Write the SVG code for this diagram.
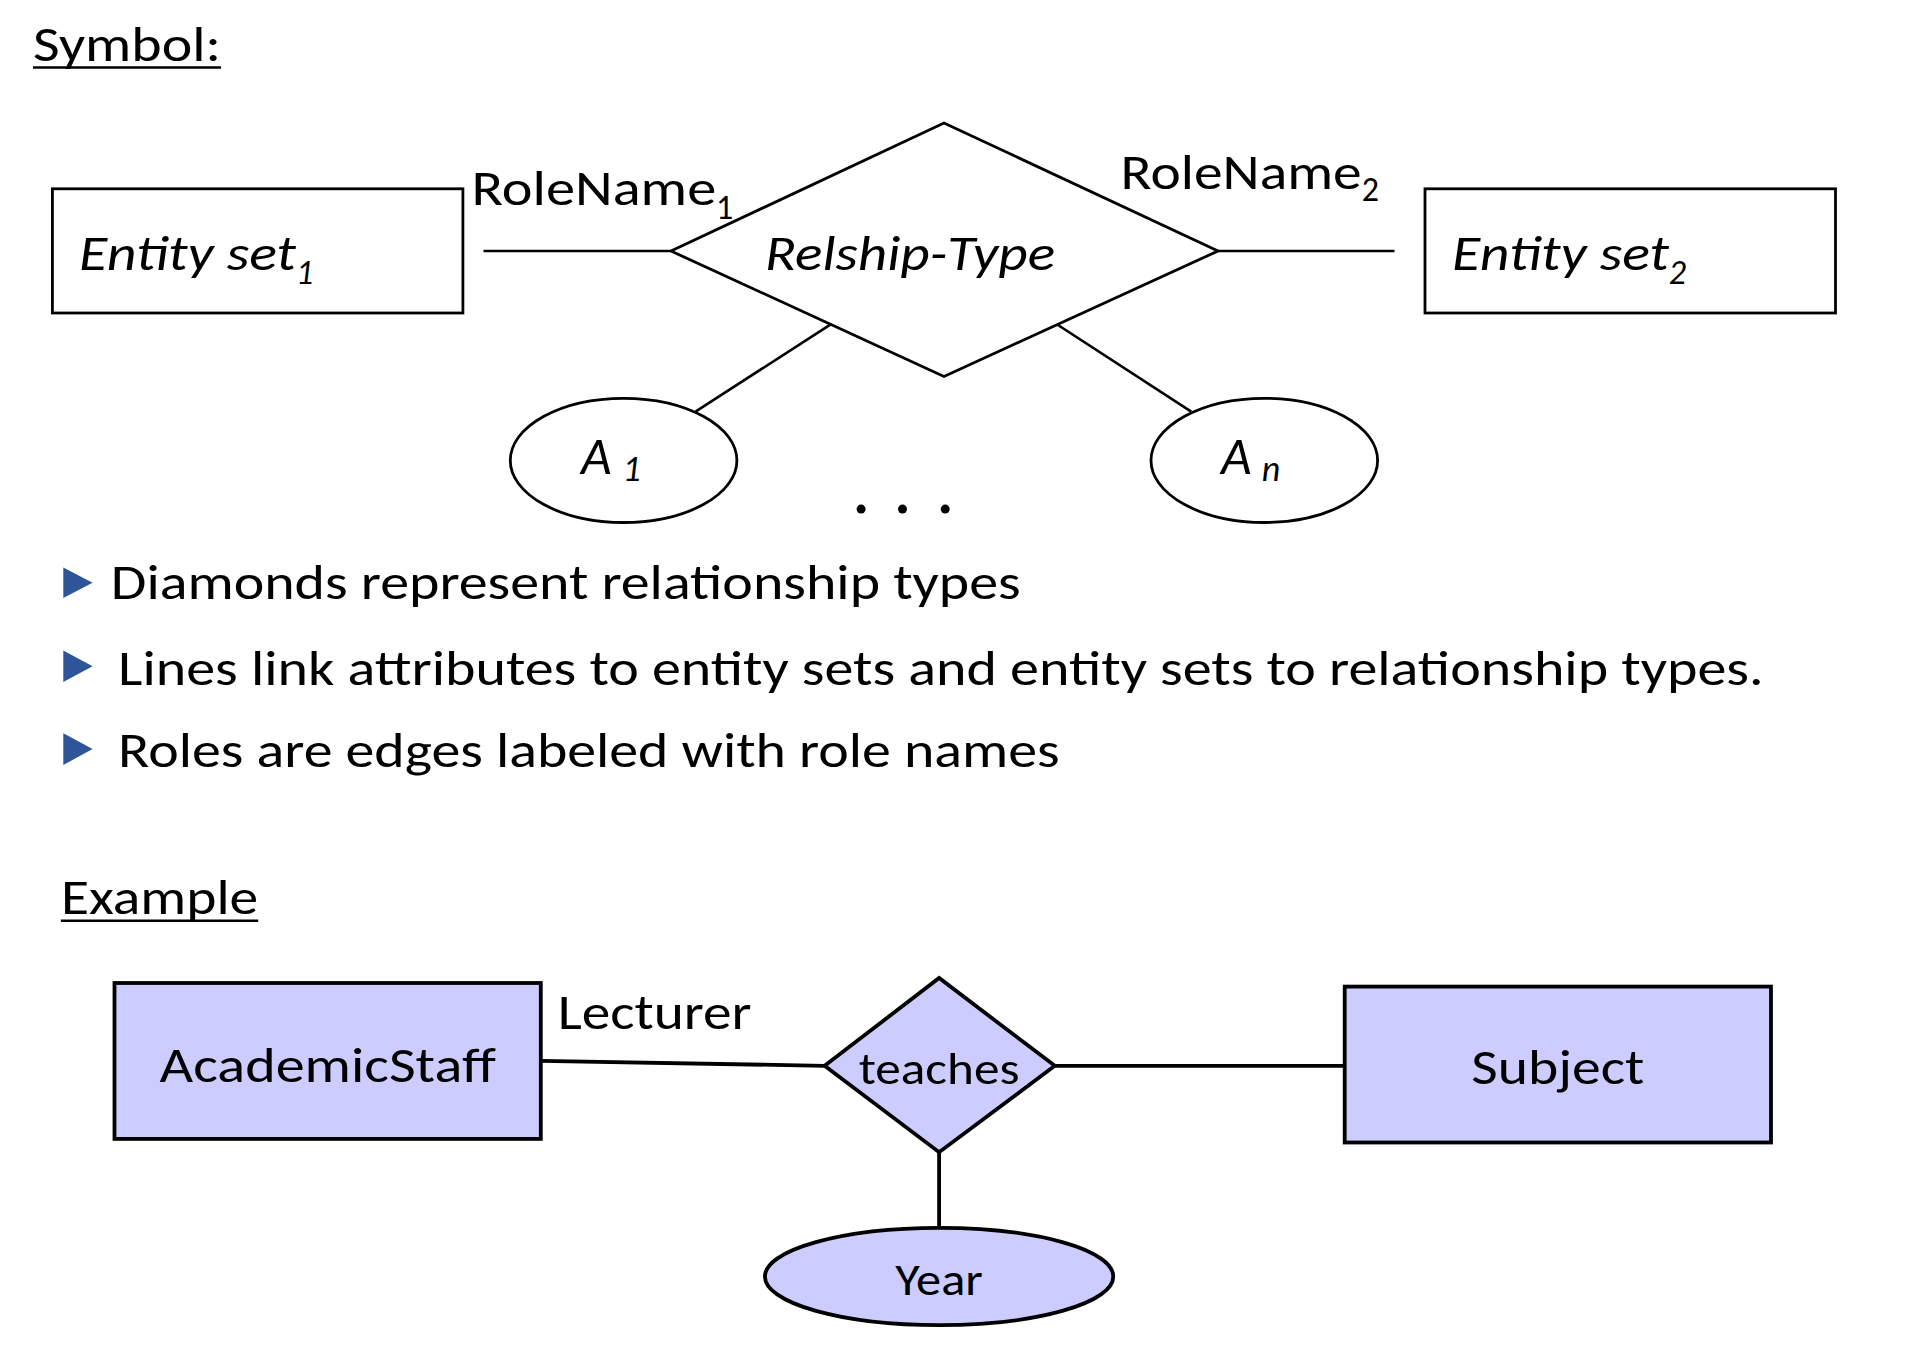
<svg xmlns="http://www.w3.org/2000/svg" width="1910" height="1350" viewBox="0 0 1910 1350">
<style>
  text { font-family: Carlito, Lato, "Open Sans", "Liberation Sans", sans-serif; fill: #000; }
  .t { font-size: 50px; }
  .it { font-size: 50px; font-style: italic; }
  .ita { font-size: 53px; font-style: italic; }
  .sub { font-size: 34px; }
  .subi { font-size: 34px; font-style: italic; }
  .subia { font-size: 36px; font-style: italic; }
  .sm { font-size: 45px; }
  .ln { stroke: #000; stroke-width: 2.6; fill: none; }
  .lnb { stroke: #000; stroke-width: 3.8; fill: none; }
  .shape { fill: #fff; stroke: #000; stroke-width: 2.8; }
  .shapeb { fill: #CCCCFF; stroke: #000; stroke-width: 3.8; }
  .bullet { fill: #2E5597; }
</style>
<rect x="0" y="0" width="1910" height="1350" fill="#fff"/>

<g id="heading-symbol">
  <text class="t" x="33" y="61" textLength="188" lengthAdjust="spacingAndGlyphs">Symbol:</text>
  <line x1="33" y1="67.5" x2="221" y2="67.5" stroke="#000" stroke-width="2.5"/>
</g>

<g id="connectors-top">
  <line class="ln" x1="483.5" y1="251" x2="671" y2="251"/>
  <line class="ln" x1="1218" y1="251" x2="1394.5" y2="251"/>
  <line class="ln" x1="830.7" y1="324.3" x2="695.5" y2="411.7"/>
  <line class="ln" x1="1057.2" y1="324.5" x2="1191.2" y2="411.7"/>
</g>

<g id="entity-set-1">
  <rect class="shape" x="52.4" y="188.8" width="410.5" height="124.2"/>
  <text class="it" x="79" y="270.4" textLength="217" lengthAdjust="spacingAndGlyphs">Entity set</text>
  <text class="subi" x="296" y="284">1</text>
</g>

<g id="role-name-1">
  <text class="t" x="471.4" y="204.6" textLength="244.8" lengthAdjust="spacingAndGlyphs">RoleName</text>
  <text class="sub" x="716" y="219">1</text>
</g>

<g id="relship-type">
  <polygon class="shape" points="671,251 944,123 1218,251 944,376.4"/>
  <text class="it" x="765" y="270.4" textLength="290" lengthAdjust="spacingAndGlyphs">Relship-Type</text>
</g>

<g id="role-name-2">
  <text class="t" x="1120.6" y="188.8" textLength="241" lengthAdjust="spacingAndGlyphs">RoleName</text>
  <text class="sub" x="1361.7" y="201">2</text>
</g>

<g id="entity-set-2">
  <rect class="shape" x="1425" y="188.8" width="410.5" height="124.2"/>
  <text class="it" x="1452" y="270.4" textLength="217" lengthAdjust="spacingAndGlyphs">Entity set</text>
  <text class="subi" x="1668.7" y="284">2</text>
</g>

<g id="attr-a1">
  <ellipse class="shape" cx="623.6" cy="460.4" rx="113.3" ry="62.1"/>
  <text class="ita" x="581" y="473.5">A</text>
  <text class="subia" x="622.5" y="481">1</text>
</g>

<g id="attr-an">
  <ellipse class="shape" cx="1264.3" cy="460.4" rx="113.3" ry="62.1"/>
  <text class="ita" x="1221" y="473.5">A</text>
  <text class="subia" x="1261.8" y="481">n</text>
</g>

<g id="ellipsis-dots">
  <circle cx="861.1" cy="509.1" r="4.5"/>
  <circle cx="902.5" cy="509.1" r="4.5"/>
  <circle cx="945.2" cy="509.1" r="4.5"/>
</g>

<g id="bullets">
  <polygon class="bullet" points="63.3,567.6 92.6,582.8 63.3,598"/>
  <text class="t" x="110.8" y="599.3" textLength="909.8" lengthAdjust="spacingAndGlyphs">Diamonds represent relationship types</text>
  <polygon class="bullet" points="63.3,650.4 92.6,666.2 63.3,682"/>
  <text class="t" x="118.1" y="684.5" textLength="1645.5" lengthAdjust="spacingAndGlyphs">Lines link attributes to entity sets and entity sets to relationship types.</text>
  <polygon class="bullet" points="63.3,733.2 92.6,749.1 63.3,765"/>
  <text class="t" x="118.1" y="767.3" textLength="941.5" lengthAdjust="spacingAndGlyphs">Roles are edges labeled with role names</text>
</g>

<g id="heading-example">
  <text class="t" x="60.9" y="913.5" textLength="197.3" lengthAdjust="spacingAndGlyphs">Example</text>
  <line x1="60.9" y1="920.8" x2="258.2" y2="920.8" stroke="#000" stroke-width="2.5"/>
</g>

<g id="connectors-example">
  <line class="lnb" x1="540.8" y1="1060.9" x2="824.6" y2="1065.8"/>
  <line class="lnb" x1="1054.8" y1="1065.8" x2="1344.7" y2="1065.8"/>
  <line class="lnb" x1="939.1" y1="1152.2" x2="939.1" y2="1227.7" stroke-width="3.2"/>
</g>

<g id="academic-staff">
  <rect class="shapeb" x="114.5" y="983" width="426.3" height="155.9"/>
  <text class="t" x="159.6" y="1081.6" textLength="336.2" lengthAdjust="spacingAndGlyphs">AcademicStaff</text>
</g>

<g id="lecturer-role">
  <text class="t" x="557.8" y="1029.2" textLength="193.7" lengthAdjust="spacingAndGlyphs">Lecturer</text>
</g>

<g id="teaches">
  <polygon class="shapeb" points="824.6,1065.8 939.1,978 1054.8,1065.8 939.1,1152.2"/>
  <text class="sm" x="858.7" y="1084" textLength="160.8" lengthAdjust="spacingAndGlyphs">teaches</text>
</g>

<g id="subject">
  <rect class="shapeb" x="1344.7" y="986.6" width="426.3" height="155.9"/>
  <text class="t" x="1471.3" y="1084" textLength="173" lengthAdjust="spacingAndGlyphs">Subject</text>
</g>

<g id="year">
  <ellipse class="shapeb" cx="939.1" cy="1276.5" rx="174.2" ry="48.7" stroke-width="4.5"/>
  <text class="sm" x="895.2" y="1294.7" textLength="87.7" lengthAdjust="spacingAndGlyphs">Year</text>
</g>
</svg>
